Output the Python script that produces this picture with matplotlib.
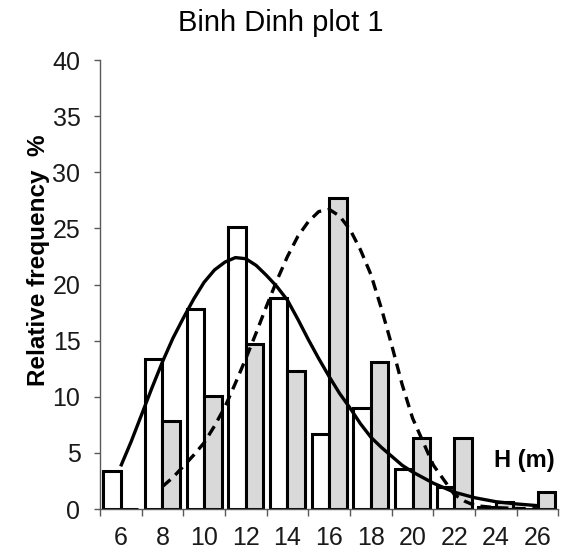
import matplotlib
matplotlib.use("Agg")
import matplotlib.pyplot as plt
import numpy as np

plt.rcParams['font.family'] = ['Liberation Sans', 'DejaVu Sans']

# --- data ---
categories = [6, 8, 10, 12, 14, 16, 18, 20, 22, 24, 26]
white_freq = [3.4, 13.4, 17.8, 25.1, 18.8, 6.7, 9.0, 3.6, 2.0, 0.2, 0.0]
gray_freq = [0.0, 7.8, 10.1, 14.7, 12.3, 27.7, 13.1, 6.3, 6.3, 0.6, 1.5]

solid_h = [6, 6.5, 7, 7.5, 8, 8.5, 9, 9.5, 10, 10.5, 11, 11.5, 12, 12.5, 13, 13.5, 14, 14.5, 15, 15.5,
           16, 16.5, 17, 17.5, 18, 18.5, 19, 19.5, 20, 20.5, 21, 22, 23, 24, 25, 26]
solid_v = [3.8, 6.0, 8.4, 10.8, 13.1, 15.2, 17.0, 18.7, 20.2, 21.3, 22.0, 22.4, 22.3, 21.7, 20.8, 19.8,
           18.6, 16.9, 15.1, 13.4, 11.8, 10.3, 9.0, 7.6, 6.4, 5.5, 4.7, 3.9, 3.3, 2.8, 2.3, 1.5, 1.0,
           0.65, 0.45, 0.3]

dashed_h = [8, 8.5, 9, 9.5, 10, 10.5, 11, 11.5, 12, 12.5, 13, 13.5, 14, 14.5, 15, 15.5, 16, 16.5, 17,
            17.5, 18, 18.5, 19, 19.5, 20, 20.5, 21, 21.5, 22, 22.5, 23, 24, 25, 26]
dashed_v = [2.0, 2.8, 3.8, 4.8, 5.9, 7.4, 9.1, 11.2, 13.4, 15.7, 18.1, 20.4, 22.5, 24.3, 25.6, 26.5,
            26.7, 26.1, 24.9, 23.1, 20.9, 17.9, 14.6, 11.1, 8.1, 6.0, 3.9, 2.6, 1.3, 0.7, 0.3, 0.12,
            0.05, 0.02]

title = "Binh Dinh plot 1"
ylabel = "Relative frequency  %"
xlabel = "H (m)"

# --- plot ---
fig = plt.figure(figsize=(5.61, 5.56), dpi=100)
ax = fig.add_axes([0.178, 0.0845, 0.8175, 0.8075])

idx = np.arange(len(categories))
w = 0.42
ax.bar(idx - w / 2, white_freq, width=w, color='white', edgecolor='black', linewidth=2.2, zorder=2)
ax.bar(idx + w / 2, gray_freq, width=w, color='#d9d9d9', edgecolor='black', linewidth=2.2, zorder=2)


def hpos(h):
    return (np.asarray(h, dtype=float) - categories[0]) / (categories[1] - categories[0])


ax.plot(hpos(solid_h), solid_v, color='black', linewidth=2.4, zorder=3,
        solid_capstyle='butt', solid_joinstyle='round')
ax.plot(hpos(dashed_h), dashed_v, color='black', linewidth=2.4, zorder=3,
        linestyle=(0, (3.2, 2.0)), dash_capstyle='butt', dash_joinstyle='round')

ax.set_xlim(-0.5, len(categories) - 0.5)
ax.set_ylim(0, 40)
ax.set_yticks(np.arange(0, 41, 5))
ax.set_xticks(idx)
ax.set_xticklabels([str(c) for c in categories])
ax.set_xticks(np.arange(-0.5, len(categories), 1.0), minor=True)
ax.tick_params(axis='x', which='major', length=0, pad=12, labelsize=18, colors='#1a1a1a')
ax.tick_params(axis='x', which='minor', length=5, width=1, color='#595959')
ax.tick_params(axis='y', length=4, width=1, color='#595959', pad=10, labelsize=18, labelcolor='#1a1a1a')

for s in ['top', 'right']:
    ax.spines[s].set_visible(False)
for s in ['left', 'bottom']:
    ax.spines[s].set_color('#595959')
    ax.spines[s].set_linewidth(1)

ax.set_ylabel(ylabel, fontsize=17.5, fontweight='bold')
ax.yaxis.set_label_coords(-0.108, 0.555)
fig.text(0.5, 1 - 23 / 556, title, fontsize=21, ha='center', va='center')
ax.text(0.925, 0.109, xlabel, transform=ax.transAxes, fontsize=17, fontweight='bold',
        ha='center', va='center')

fig.savefig("out.png", dpi=100)
